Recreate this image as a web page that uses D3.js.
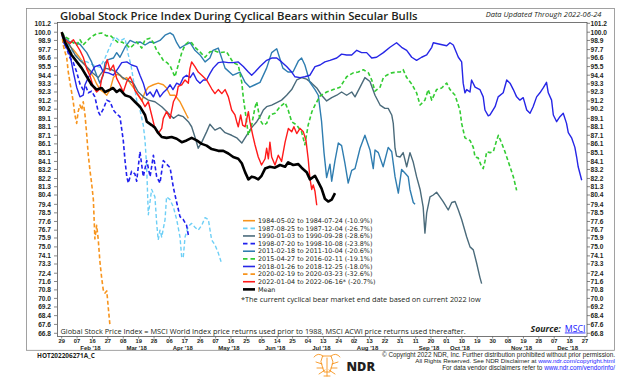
<!DOCTYPE html>
<html><head><meta charset="utf-8">
<script src="https://cdn.jsdelivr.net/npm/d3@7"></script>
<style>
body{margin:0;background:#fff}
svg{display:block}
text{font-family:'Open Sans',sans-serif;fill:#231f20}
text.ax{font-family:'Liberation Sans',Arial,sans-serif}
text.lg{font-family:'DejaVu Sans',sans-serif}
</style>
</head><body>
<svg id="c" width="624" height="382"></svg>
<script>
// ---------------- DATA ----------------
const yTicks = [101.2,100.0,98.9,97.7,96.6,95.5,94.4,93.3,92.3,91.2,90.2,89.1,88.1,87.1,86.1,85.1,84.1,83.2,82.2,81.3,80.4,79.4,78.5,77.6,76.7,75.9,75.0,74.1,73.3,72.4,71.6,70.8,70.0,69.2,68.4,67.6,66.8];
const xTickLabels = ["29","07","16","27","08","19","28","06","17","26","07","16","25","05","14","25","04","13","24","02","13","22","31","11","20","01","10","19","30","08","19","28","07","18","27"];
const monthLabels = ["Feb '18","Mar '18","Apr '18","May '18","Jun '18","Jul '18","Aug '18","Sep '18","Oct '18","Nov '18","Dec '18"];

// [trading day from start, index value (start = 100)]
const s1984 = [[0,100],[1.5,99.2],[3,98.3],[5.3,97.7],[7.5,96.9],[9.8,96.0],[12.1,95.1],[14.4,94.2],[15.9,93.3],[17.4,92.6],[18.9,92.3],[20.5,91.9],[22,92.6],[23.5,94.1],[25,94.5],[26.5,94.4],[28,93.9],[29.6,94.1],[31.1,93.4],[33.3,92.6],[34.8,91.9],[36.4,91.2],[37.9,92.3],[39.4,92.9],[41.7,93.2],[43.9,93.4],[46.2,93.2],[47.7,92.8],[49.3,91.9],[51.5,91.9],[53.8,91.1],[55.3,90.3],[56.8,89.5],[57.6,89.1]];

const s1987 = [[0,100],[1.5,99.0],[3.8,97.9],[6.1,97.0],[8.3,96.3],[11.5,96.1],[14.2,95.7],[17.4,95.4],[19.7,96.6],[21.2,97.6],[22.7,98.6],[24.2,99.4],[26.5,98.8],[28.8,99.2],[30.3,97.0],[31.5,95.7],[32.6,93.8],[34.1,91.3],[35.6,90.1],[37.1,88.3],[37.9,86.5],[38.6,83.7],[39.4,78.3],[40.9,81.0],[42.4,80.2],[43.2,77.4],[43.9,75.7],[44.7,76.7],[45.5,76.0],[47,77.8],[47.7,80.2],[49.3,79.9],[50.8,79.1],[52.3,77.8],[53.8,76.0],[54.6,73.9],[55.3,74.0],[56.1,76.0],[57.6,77.1],[59.1,77.4],[60.6,77.0],[62.1,76.7],[63.7,77.2],[65.2,78.0],[66.7,77.8],[68.2,75.7],[69.7,75.2],[71.2,74.4],[72.8,73.3]];

const s1990 = [[0,100],[1.5,99.2],[3.8,98.2],[6.1,97.0],[8.3,96.3],[10.6,95.7],[13.6,94.8],[16.6,94.1],[19.7,95.3],[22.7,95.1],[25,94.8],[27.3,94.2],[29.6,93.8],[32.6,93.4],[34.8,92.3],[37.1,91.7],[39.4,91.3],[42.4,91.1],[45.5,90.5],[48.5,89.7],[50.8,89.1],[53,89.5],[55.3,89.3],[57.6,88.7],[59.1,88.1],[60.6,86.9],[62.1,85.6],[63.7,86.3],[65.9,87.5],[67.4,88.4],[69.7,87.7],[72,88.0],[74.3,87.4],[77.3,87.1],[79.6,86.8],[81.9,86.2],[84.1,87.1],[86.4,88.0],[88.7,88.7],[90.2,89.3],[91.7,90.1],[93.2,90.5],[95.5,90.7],[97.8,91.0],[100,91.3],[102.3,91.9],[104.6,92.6],[106.9,93.8],[109.1,94.1],[111.4,93.9],[113.7,93.4],[116,92.8],[118.2,91.9],[120.5,91.2],[122.8,91.6],[125.1,91.9],[127.3,92.3],[129.6,91.9],[131.9,92.3],[133.4,91.7],[135.7,92.9],[137.9,94.1],[140.2,93.6],[142.5,91.9],[144.8,90.7],[147,90.3],[148.5,90.3],[150.1,89.5],[150.8,88.5],[151.6,85.6],[152.3,84.7],[153.9,84.6],[155.3,85.1],[156.9,83.5],[158.4,85.1],[159.9,84.0],[161.4,82.4],[163,81.0],[164.4,79.1],[165.2,76.4],[166,78.5],[167.5,80.2],[169,80.4],[170.5,80.7],[172,80.2],[173.5,79.7],[175.8,78.8],[177.4,79.6],[178.9,79.7],[180.4,78.8],[181.9,77.8],[184.2,76.0],[185.7,75.0],[187.2,74.7],[188.7,73.4],[190.2,72.0],[191,71.4]];

const s1998 = [[0,100],[0.7,98.7],[2.3,97.8],[3.8,96.6],[5.3,96.0],[6.8,94.8],[8.3,93.3],[9.7,92.6],[11.1,92.9],[12.1,92.2],[13.6,92.4],[15.1,91.7],[16.6,89.9],[17.4,89.5],[18.9,90.2],[20.5,91.3],[22,91.1],[23.5,90.1],[25,89.6],[26.5,89.3],[28,86.5],[28.8,84.2],[29.6,82.4],[30.3,81.7],[31.8,83.0],[33.3,82.7],[34.1,81.9],[35.6,85.2],[37.1,82.4],[38.7,84.2],[40.2,82.4],[41.7,84.8],[43.2,82.4],[44.7,81.7],[46.2,84.2],[47.7,83.8],[49.3,83.4],[50.8,81.2],[52.3,79.6],[53.8,78.1],[55.3,77.8],[56.8,77.2],[57.6,76.2]];

const s2011 = [[0,100],[1.5,99.2],[3.8,98.7],[6.1,98.6],[8.3,98.4],[11.4,97.3],[13.6,96.1],[15.9,94.4],[17.4,93.4],[18.9,94.4],[19.7,96.0],[21.2,96.4],[23.5,96.6],[25,97.3],[26.5,96.7],[28.8,98.0],[31.1,98.9],[33.3,98.6],[35.6,98.7],[37.9,98.3],[40.2,98.7],[42.4,98.6],[44.7,98.9],[47,99.6],[49.3,99.9],[50.8,99.6],[52.3,98.6],[53.8,97.9],[56.1,98.3],[58.4,98.6],[60.6,97.6],[62.9,97.0],[65.2,96.1],[67.4,96.6],[68.8,97.6],[71.2,97.9],[74.3,95.3],[77.9,94.4],[81.1,94.8],[83.4,93.5],[85.6,92.9],[87.9,93.2],[90.2,93.5],[93.2,95.3],[95.5,97.3],[97.8,97.8],[100.6,95.3],[102.9,94.8],[105.2,94.8],[107.6,96.2],[109.1,96.6],[110.6,95.7],[112.9,93.5],[115.2,92.6],[116.7,91.9],[118.2,88.7],[119.3,85.1],[120.5,82.3],[122,83.8],[122.8,81.9],[124.3,84.2],[125.8,86.2],[127.3,85.9],[128.8,83.9],[130.3,81.7],[131.9,83.1],[133.4,83.3],[135.7,85.6],[137.9,87.1],[140.2,85.4],[141.7,83.3],[142.5,85.4],[144,85.1],[146.2,83.5],[148.5,85.7],[150.1,85.2],[151.6,82.4],[153.1,80.6],[154.6,83.2],[156.1,82.8],[157.6,82.4],[158.4,81.0],[159.9,79.6],[160.7,79.4]];

const s2015 = [[0,100],[1.5,99.4],[3.8,99.0],[5.3,98.6],[6.8,98.3],[8.3,99.0],[9.7,98.3],[12.1,99.0],[13.6,99.4],[15.9,99.8],[18.2,99.9],[20.5,99.5],[22,99.6],[24.2,99.0],[25.7,98.6],[27.4,98.7],[29.6,98.3],[31.1,97.9],[32.6,98.3],[34.1,98.7],[36.4,97.9],[37.9,99.0],[40.2,99.2],[41.7,98.6],[43.2,97.6],[44.7,97.0],[46.2,96.3],[47.9,96.0],[49.3,95.6],[51.5,94.2],[53,95.7],[54.6,97.3],[56.1,98.3],[57.6,98.7],[59.1,98.6],[60.6,98.0],[62.9,97.4],[65.2,96.7],[67.4,97.4],[69.7,97.5],[72,97.3],[75,97.4],[78,96.0],[80.3,95.7],[81.9,93.5],[82.6,91.6],[84.1,88.7],[84.9,87.1],[86.4,88.3],[87.9,90.4],[88.7,91.1],[90.2,88.9],[91.7,88.3],[93.2,88.5],[94.7,89.5],[97,89.7],[99.3,90.5],[101.6,91.0],[103,90.1],[104.6,88.7],[106.9,88.3],[109.1,87.5],[110.6,86.0],[112.1,88.3],[113.8,89.9],[115.2,90.7],[117.5,91.8],[120.5,92.3],[123.5,92.6],[126.6,92.9],[129.6,94.2],[132.6,94.7],[134.9,94.8],[137.2,95.1],[139.5,94.7],[141,93.8],[142.5,92.4],[144.8,92.9],[146.3,94.1],[147.8,94.4],[150.1,94.7],[152.3,94.8],[153.9,94.8],[155.3,95.1],[156.9,94.1],[159.2,93.3],[161.4,92.2],[163,90.7],[165.2,91.3],[166.7,92.6],[168.3,91.3],[170.5,92.6],[172.8,92.8],[175.1,93.4],[176.6,92.6],[178.9,91.9],[181.1,90.1],[181.9,88.5],[183.4,86.8],[185.7,86.5],[187.2,85.7],[188,84.6],[189.4,84.5],[191,83.5],[191.7,83.3],[192.5,84.1],[193.3,85.2],[194.8,85.1],[196.3,85.2],[197.8,86.5],[198.6,87.1],[200.1,86.2],[201.6,85.2],[202.4,84.6],[203.9,83.5],[205.4,82.4],[206.9,80.9]];

const s2018 = [[0,100],[0.7,98.7],[2.3,97.9],[3.8,97.0],[5.3,94.8],[6.8,92.9],[8.3,91.7],[9.8,91.9],[10.6,93.2],[12.1,94.1],[13.6,94.8],[15.1,95.5],[17.4,95.7],[18.9,94.8],[21.2,94.7],[23.5,94.4],[25.7,95.3],[27.3,96.0],[29.6,96.1],[31.8,95.7],[34.1,95.5],[35.6,94.4],[37.1,93.4],[38.7,91.9],[40.2,92.3],[41.7,91.7],[43.2,92.6],[44.7,91.7],[46.1,92.2],[47.7,92.6],[49.3,93.2],[50.6,92.6],[52.3,93.4],[53.8,93.2],[55.3,94.1],[56.8,94.4],[58.4,94.1],[59.8,94.7],[61.4,93.8],[62.9,93.4],[64.4,93.8],[65.9,93.8],[67.4,94.6],[68.9,95.3],[71.2,96.0],[73.5,96.1],[75.8,96.0],[77.9,96.0],[80.3,96.1],[82.6,95.5],[84.9,94.8],[86.4,94.4],[87.9,94.8],[90.2,95.5],[93.2,96.3],[95.5,96.6],[97.8,96.6],[100,96.1],[102.3,95.5],[104.6,94.8],[106.1,94.2],[108.4,94.1],[110.6,94.2],[112.9,94.4],[115.2,95.5],[117.5,95.7],[119.7,96.1],[122,96.3],[125.1,96.6],[127.3,97.1],[129.6,97.0],[131.9,97.0],[134.2,97.6],[136.4,97.3],[138.7,97.3],[141,96.6],[143.2,96.7],[146.3,97.3],[149.3,98.0],[152.3,98.6],[154.6,98.0],[156.9,97.6],[159.2,96.7],[161.4,96.3],[163.7,96.7],[166,97.0],[168.3,98.0],[169,98.6],[172,98.4],[175.1,98.2],[176.6,98.6],[178.1,98.3],[180.4,96.7],[181.9,96.1],[182.6,93.4],[183.4,92.2],[184.2,92.6],[185.7,92.3],[186.4,93.8],[188,92.9],[190.2,92.6],[191.7,91.7],[192.5,90.1],[194,89.4],[194.8,89.5],[197.1,90.5],[198.5,91.7],[200.8,92.2],[202.4,93.8],[203.9,93.4],[205.4,92.6],[206.9,91.7],[208.4,91.3],[209.9,91.6],[211.5,90.1],[213,89.7],[214.4,90.5],[216,91.7],[217.5,92.2],[219,92.8],[220.5,93.5],[221.3,92.2],[222.8,91.3],[223.6,89.5],[225.1,88.7],[226.6,89.3],[228.1,89.7],[229.6,88.5],[230.4,87.4],[231.9,86.8],[233.4,85.7],[234.2,84.6],[234.9,83.5],[236.5,82.0]];

const s2020 = [[0,100],[0.7,98.3],[1.5,97.4],[2.3,96.6],[3,94.8],[3.8,93.4],[4.5,92.3],[5.3,91.0],[6,89.5],[6.8,88.5],[7.5,89.9],[8.3,90.7],[9.1,90.1],[9.8,91.1],[10.6,89.5],[11.4,87.1],[12.1,84.8],[12.9,83.0],[13.6,81.7],[14.4,79.9],[15.1,75.8],[15.9,77.2],[16.6,75.8],[17.4,73.5],[18.2,71.9],[18.9,70.8],[19.7,70.5],[20.5,70.7],[21.2,69.1],[22,67.4]];

const s2022 = [[0,100],[1.5,99.0],[3.8,98.5],[5.3,99.0],[6.8,98.3],[8.3,97.6],[9.8,96.7],[11.4,95.2],[12.9,94.3],[14.4,92.9],[15.9,92.3],[17.4,92.7],[18.2,94.0],[19.7,95.2],[20.7,96.4],[22,95.0],[23.5,95.7],[25,94.0],[26.5,93.2],[28,92.3],[29.6,93.6],[31.1,94.2],[32.1,93.6],[33.3,92.5],[34.8,91.9],[36.4,91.3],[37.9,90.5],[39.4,91.1],[40.9,89.5],[42.4,87.9],[43.9,87.3],[45.5,87.9],[46.2,89.1],[47.7,89.9],[49.3,89.1],[50.8,91.1],[52.3,91.9],[53,93.0],[54.6,93.2],[56.1,93.8],[57.6,93.4],[58.3,95.2],[59.1,96.1],[60.6,95.5],[62.1,94.8],[63.7,94.4],[65.9,93.8],[68.2,92.7],[69.7,92.1],[71.2,92.6],[72.8,92.1],[74.3,92.6],[75.8,91.7],[77.3,90.1],[78.8,89.5],[79.6,88.7],[80.3,88.1],[81.4,89.5],[82.3,88.3],[83.4,88.1],[84.9,89.9],[85.6,88.7],[86.9,87.1],[87.9,86.0],[89.4,84.6],[90.9,83.7],[92.5,84.4],[93.2,85.6],[94,84.4],[94.7,86.3],[95.5,84.6],[97,83.7],[98.5,84.8],[100,84.1],[101.6,86.3],[103.1,87.9],[104.6,87.5],[105.6,88.1],[106.9,87.3],[108.4,87.9],[109.9,87.5],[111.1,86.5],[112.1,84.4],[112.9,82.2],[113.7,81.0],[114.4,81.5],[115.2,80.8],[116,79.3]];

const sMean = [[0,100],[1.5,98.7],[4.5,97.0],[9.1,95.3],[13.6,93.2],[15.9,92.6],[18.2,92.8],[19.7,92.3],[22,92.6],[23.3,92.8],[25,92.3],[26.5,92.6],[28.8,91.9],[31.1,91.7],[33.3,91.1],[35.6,90.5],[37.9,89.5],[38.7,88.7],[40.9,88.3],[42.4,88.0],[43.8,87.4],[45.5,86.9],[47.7,86.8],[50,86.9],[52.3,86.7],[54.6,86.3],[56.8,86.5],[59.1,86.8],[61.4,86.5],[63.7,86.1],[65.9,85.9],[68.2,85.5],[71.2,85.3],[73.5,85.3],[75.8,85.0],[78,84.6],[80.3,84.4],[81.9,83.9],[83.4,82.9],[84.9,82.1],[86.4,82.4],[87.9,82.3],[89.4,82.1],[90.9,82.5],[92.5,83.3],[94.7,83.5],[97,83.4],[99.3,83.7],[101.6,83.5],[103,84.0],[105.3,83.7],[107.6,83.8],[109.1,83.4],[111.4,82.9],[112.9,82.1],[115.2,82.5],[116.7,81.8],[118.2,81.1],[119.7,80.0],[121.2,79.7],[122.8,79.9],[124.3,80.6]];

const legendLabels = ["1984-05-02 to 1984-07-24 (-10.9%)","1987-08-25 to 1987-12-04 (-26.7%)","1990-01-03 to 1990-09-28 (-28.6%)","1998-07-20 to 1998-10-08 (-23.8%)","2011-02-18 to 2011-10-04 (-20.6%)","2015-04-27 to 2016-02-11 (-19.1%)","2018-01-26 to 2018-12-25 (-18.0%)","2020-02-19 to 2020-03-23 (-32.6%)","2022-01-04 to 2022-06-16* (-20.7%)","Mean"];

// ---------------- STYLE ----------------
const series = [
  {data:s1984, color:"#f7941d", dash:null, w:1.4},
  {data:s1987, color:"#6dcff6", dash:"4,2.5", w:1.4},
  {data:s1990, color:"#4b6b7b", dash:null, w:1.4},
  {data:s1998, color:"#2020ee", dash:"4,2.5", w:1.6},
  {data:s2011, color:"#2f7db0", dash:null, w:1.4},
  {data:s2015, color:"#33cc33", dash:"4,2.5", w:1.6},
  {data:s2018, color:"#2626e6", dash:null, w:1.4},
  {data:s2020, color:"#f7941d", dash:"4,2.5", w:1.6},
  {data:s2022, color:"#ff1a1a", dash:null, w:1.4},
  {data:sMean, color:"#000000", dash:null, w:2.6}
];

const svg = d3.select("#c");
const x = d3.scaleLinear().domain([0, 238]).range([61.7, 585]);
const y = d3.scaleLog().domain([66.8, 101.2]).range([333.3, 23.3]);
const P = {l:57, r:587, t:22.5, b:336.5};

function fit(sel, w){
  const L = sel.node().getComputedTextLength();
  const fs = parseFloat(sel.attr("font-size"));
  if (L>0) sel.attr("font-size", fs*w/L);
  return sel;
}

// outer frame
svg.append("rect").attr("x",26.5).attr("y",8.5).attr("width",588).attr("height",341.8)
  .attr("fill","none").attr("stroke","#8a8a8a").attr("stroke-width",0.8);
// plot frame
svg.append("rect").attr("x",P.l+0.5).attr("y",P.t).attr("width",P.r-P.l-0.5).attr("height",P.b-P.t)
  .attr("fill","none").attr("stroke","#555").attr("stroke-width",0.8);

// title
fit(svg.append("text").attr("x",60).attr("y",19.6).attr("font-size",11).attr("font-weight",600)
  .attr("fill","#231f20").text("Global Stock Price Index During Cyclical Bears within Secular Bulls"), 358);
fit(svg.append("text").attr("x",601.5).attr("y",16.5).attr("text-anchor","end").attr("font-size",7)
  .attr("font-style","italic").attr("fill","#333").text("Data Updated Through 2022-06-24"), 116);

// y axes
const gy = svg.append("g");
yTicks.forEach(v=>{
  const yy = y(v);
  gy.append("line").attr("x1",P.l-3).attr("x2",P.l).attr("y1",yy).attr("y2",yy).attr("stroke","#555").attr("stroke-width",0.7);
  gy.append("line").attr("x1",P.r).attr("x2",P.r+3).attr("y1",yy).attr("y2",yy).attr("stroke","#555").attr("stroke-width",0.7);
  gy.append("text").attr("class","ax").attr("x",51).attr("y",yy).attr("dy","0.35em").attr("text-anchor","end")
    .attr("font-size",6.6).attr("font-weight",700).attr("fill","#333").text(v.toFixed(1));
  gy.append("text").attr("class","ax").attr("x",590.5).attr("y",yy).attr("dy","0.35em").attr("text-anchor","start")
    .attr("font-size",6.6).attr("font-weight",700).attr("fill","#333").text(v.toFixed(1));
});

// trading-day calendar for x labels
const cal = [];
{ const dt = new Date(2018,0,29);
  while (cal.length < 245){ const wd = dt.getDay(); if (wd>0 && wd<6) cal.push(new Date(dt)); dt.setDate(dt.getDate()+1); } }
const gx = svg.append("g");
const tickMonths = [];
xTickLabels.forEach((lab,k)=>{
  const d = k*7, xx = x(d);
  tickMonths.push(cal[d].getMonth());
  gx.append("line").attr("x1",xx).attr("x2",xx).attr("y1",P.b).attr("y2",P.b+2).attr("stroke","#555").attr("stroke-width",0.7);
  gx.append("text").attr("class","ax").attr("x",xx).attr("y",342.8).attr("text-anchor","middle").attr("font-size",5.8)
    .attr("font-weight",700).attr("fill","#333").text(lab);
});
monthLabels.forEach((lab,i)=>{
  const m = i+1;
  const ks = tickMonths.map((mm,k)=>mm===m?k:-1).filter(k=>k>=0);
  if(!ks.length) return;
  const k = ks.length>1 ? ks[1] : ks[0];
  gx.append("text").attr("class","ax").attr("x",x(k*7)-2).attr("y",349.5).attr("text-anchor","middle").attr("font-size",6.0)
    .attr("font-weight",700).attr("fill","#333").text(lab);
});

// lines
const line = d3.line().x(d=>x(d[0])).y(d=>y(d[1]));
const gl = svg.append("g");
series.forEach(s=>{
  gl.append("path").datum(s.data).attr("d",line).attr("fill","none")
    .attr("stroke",s.color).attr("stroke-width",s.w).attr("stroke-linejoin","round")
    .attr("stroke-dasharray",s.dash);
});

// legend
const gL = svg.append("g");
legendLabels.forEach((lab,i)=>{
  const s = series[i], yy = 220.7 + i*7.63;
  gL.append("line").attr("x1",243).attr("x2",255).attr("y1",yy).attr("y2",yy)
    .attr("stroke",s.color).attr("stroke-width",i===9?2.6:1.6).attr("stroke-dasharray",s.dash?"4.5,3":null);
  gL.append("text").attr("class","lg").attr("x",258).attr("y",yy).attr("dy","0.35em").attr("font-size",6.4).attr("fill","#231f20").text(lab);
});

fit(svg.append("text").attr("x",241).attr("y",302.3).attr("font-size",7).attr("fill","#231f20")
  .text("*The current cyclical bear market end date based on current 2022 low"), 240);

// bottom note & source
fit(svg.append("text").attr("x",60.5).attr("y",334.3).attr("font-size",7).attr("fill","#231f20")
  .text("Global Stock Price Index = MSCI World Index price returns used prior to 1988, MSCI ACWI price returns used thereafter."), 406);
const src = svg.append("text").attr("x",530.5).attr("y",331.5).attr("font-size",7);
src.append("tspan").attr("font-weight",700).attr("font-style","italic").attr("fill","#231f20").text("Source:");
src.append("tspan").attr("dx",4).attr("fill","#1a1aff").attr("text-decoration","underline").text("MSCI");
fit(src, 51);

// footer
fit(svg.append("text").attr("x",37).attr("y",358.2).attr("font-size",6.5).attr("font-weight",700)
  .attr("fill","#231f20").text("HOT202206271A_C"), 58);
fit(svg.append("text").attr("class","ax").attr("x",615).attr("y",356.6).attr("text-anchor","end").attr("font-size",5.6).attr("fill","#231f20")
  .text("\u00A9 Copyright 2022 NDR, Inc. Further distribution prohibited without prior permission."), 233);
const f2 = svg.append("text").attr("class","ax").attr("x",615).attr("y",363.1).attr("text-anchor","end").attr("font-size",5.6);
f2.append("tspan").attr("fill","#231f20").text("All Rights Reserved. See NDR Disclaimer at ");
f2.append("tspan").attr("fill","#1a1aff").text("www.ndr.com/copyright.html");
fit(f2, 200);
const f3 = svg.append("text").attr("class","ax").attr("x",615).attr("y",369.6).attr("text-anchor","end").attr("font-size",5.6);
f3.append("tspan").attr("fill","#231f20").text("For data vendor disclaimers refer to ");
f3.append("tspan").attr("fill","#1a1aff").text("www.ndr.com/vendorinfo/");
fit(f3, 173);

// NDR logo
const gN = svg.append("g").attr("fill","none").attr("stroke","#f7941d").attr("stroke-width",0.9).attr("stroke-linecap","round");
gN.append("path").attr("d","M314,357 Q318,352 323,356 M340,357 Q336,352 331,356 M323,356 L331,356 L333,362 L330,372 L324,372 L321,362 Z");
gN.append("path").attr("d","M316,362 L322,364 M338,362 L332,364 M317,368 L323,368 M337,368 L331,368 M319,374 L325,370 M335,374 L329,370 M327,358 L327,376 M324,376 L330,376");
fit(svg.append("text").attr("x",346.5).attr("y",370.8).attr("font-size",14).attr("font-weight",800)
  .attr("fill","#f7941d").text("NDR"), 28.5);
</script>
</body></html>
